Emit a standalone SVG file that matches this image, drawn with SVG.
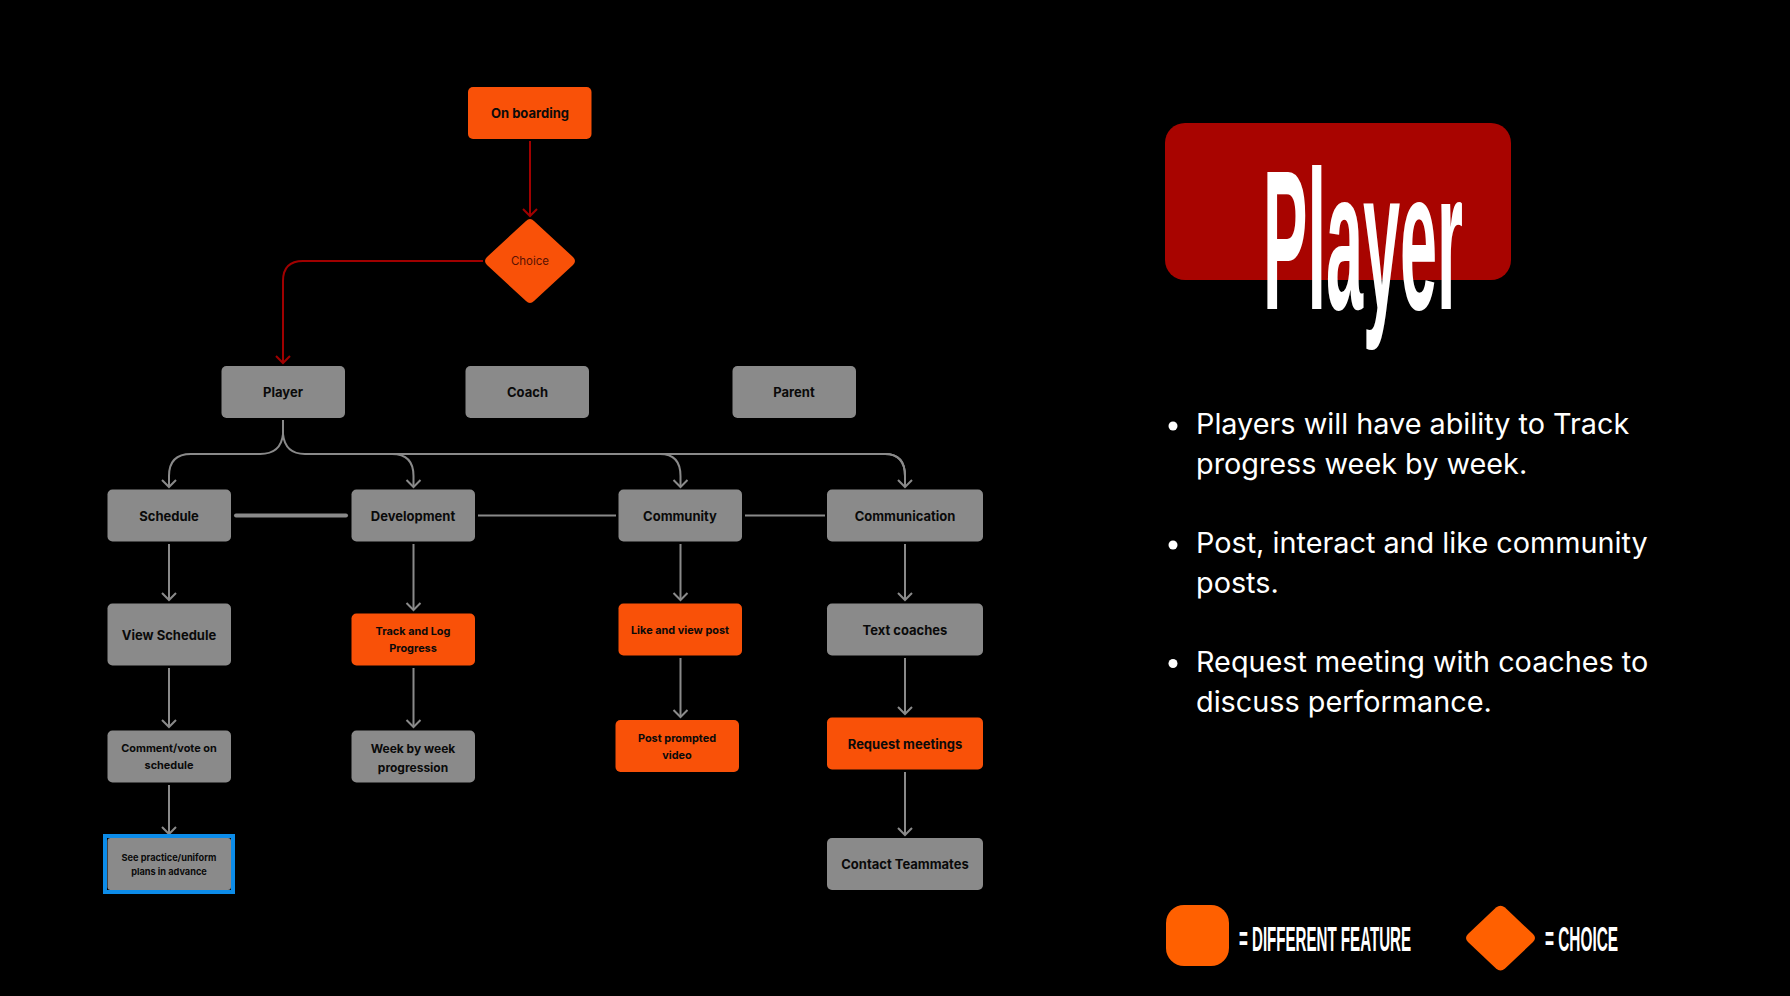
<svg xmlns="http://www.w3.org/2000/svg" width="1790" height="996" viewBox="0 0 1790 996">
<style>
.g{fill:#8a8a8a}
.o{fill:#f95108}
.t{font-family:Inter,"Liberation Sans",sans-serif;font-weight:650;fill:#0a0a0a;text-anchor:middle}
.s13{font-size:13px}.s12{font-size:12px}.s11{font-size:10.900px}.s9{font-size:9.200px}
.c{fill:none;stroke:#8a8a8a;stroke-width:2}
.r{fill:none;stroke:#a00000;stroke-width:2}
.b{font-family:Inter,"Noto Sans",sans-serif;font-size:28.800px;fill:#fff}
.l{font-family:"Liberation Sans",sans-serif;font-weight:700;font-size:35px;fill:#fff}
</style>
<defs>
<marker id="ag" markerUnits="userSpaceOnUse" markerWidth="18" markerHeight="18" refX="8" refY="8" orient="auto"><path d="M1 1L8 8L1 15" fill="none" stroke="#8a8a8a" stroke-width="2"/></marker>
<marker id="ar" markerUnits="userSpaceOnUse" markerWidth="18" markerHeight="18" refX="8" refY="8" orient="auto"><path d="M1 1L8 8L1 15" fill="none" stroke="#a00000" stroke-width="2"/></marker>
</defs>
<rect width="1790" height="996" fill="#000"/>
<g id="connectors">
<path class="r" marker-end="url(#ar)" d="M530 141V216"/>
<path class="r" marker-end="url(#ar)" d="M483 261H303Q283 261 283 281V363"/>
<path class="c" d="M283 420V434"/>
<path class="c" marker-end="url(#ag)" d="M283 434Q281 454 260 454H191Q169 454 169 476V487"/>
<path class="c" d="M283 434Q285 454 305 454H885Q905 454 905 476V487"/>
<path class="c" marker-end="url(#ag)" d="M392 454Q413.500 454 413.500 476V487"/>
<path class="c" marker-end="url(#ag)" d="M660 454Q680.500 454 680.500 476V487"/>
<path class="c" marker-end="url(#ag)" d="M885 454Q905 454 905 476V487"/>
<path d="M236 515.500H346" fill="none" stroke="#8a8a8a" stroke-width="4" stroke-linecap="round"/>
<path class="c" d="M478 515.500H616M745 515.500H825"/>
<path class="c" marker-end="url(#ag)" d="M169 544V600"/>
<path class="c" marker-end="url(#ag)" d="M169 668V727"/>
<path class="c" marker-end="url(#ag)" d="M169 785V834"/>
<path class="c" marker-end="url(#ag)" d="M413.500 544V610"/>
<path class="c" marker-end="url(#ag)" d="M413.500 668V727"/>
<path class="c" marker-end="url(#ag)" d="M680.500 544V600"/>
<path class="c" marker-end="url(#ag)" d="M680.500 658V717"/>
<path class="c" marker-end="url(#ag)" d="M905 544V600"/>
<path class="c" marker-end="url(#ag)" d="M905 658V714"/>
<path class="c" marker-end="url(#ag)" d="M905 772V835"/>
</g>
<g id="onboarding"><rect class="o" x="468" y="87" width="123.500" height="52" rx="5"/><text class="t s13" x="530" y="118">On boarding</text></g>
<g id="choice"><path class="o" d="M526 221Q530 217 534 221L573 257Q577 261 573 265L534 301Q530 305 526 301L487 265Q483 261 487 257Z"/><text x="530" y="265" text-anchor="middle" font-family="Inter,sans-serif" font-size="11.500" fill="#5a1203">Choice</text></g>
<g id="player"><rect class="g" x="221.500" y="366" width="123.500" height="52" rx="5"/><text class="t s13" x="283" y="397">Player</text></g>
<g id="coach"><rect class="g" x="465.500" y="366" width="123.500" height="52" rx="5"/><text class="t s13" x="527.500" y="397">Coach</text></g>
<g id="parent"><rect class="g" x="732.500" y="366" width="123.500" height="52" rx="5"/><text class="t s13" x="794" y="397">Parent</text></g>
<g id="schedule"><rect class="g" x="107.500" y="489.500" width="123.500" height="52" rx="5"/><text class="t s13" x="169" y="521">Schedule</text></g>
<g id="development"><rect class="g" x="351.500" y="489.500" width="123.500" height="52" rx="5"/><text class="t s13" x="413" y="521">Development</text></g>
<g id="community"><rect class="g" x="618.500" y="489.500" width="123.500" height="52" rx="5"/><text class="t s13" x="680" y="521">Community</text></g>
<g id="communication"><rect class="g" x="827" y="489.500" width="156" height="52" rx="5"/><text class="t s13" x="905" y="521">Communication</text></g>
<g id="view-schedule"><rect class="g" x="107.500" y="603.500" width="123.500" height="62" rx="5"/><text class="t s13" x="169" y="640">View Schedule</text></g>
<g id="comment"><rect class="g" x="107.500" y="730.500" width="123.500" height="52" rx="5"/><text class="t s11" x="169" y="752">Comment/vote on</text><text class="t s11" x="169" y="769">schedule</text></g>
<g id="see-practice"><rect x="105" y="836" width="128" height="56" fill="none" stroke="#0c8ce9" stroke-width="4"/><rect class="g" x="107.500" y="838" width="123.500" height="52" rx="3"/><text class="t s9" x="169" y="860.500">See practice/uniform</text><text class="t s9" x="169" y="875">plans in advance</text></g>
<g id="track"><rect class="o" x="351.500" y="613.500" width="123.500" height="52" rx="5"/><text class="t s11" x="413" y="635">Track and Log</text><text class="t s11" x="413" y="652">Progress</text></g>
<g id="week"><rect class="g" x="351.500" y="730.500" width="123.500" height="52" rx="5"/><text class="t s12" x="413" y="752.500">Week by week</text><text class="t s12" x="413" y="771.500">progression</text></g>
<g id="like"><rect class="o" x="618.500" y="603.500" width="123.500" height="52" rx="5"/><text class="t s11" x="680" y="633.500">Like and view post</text></g>
<g id="post"><rect class="o" x="615.500" y="720" width="123.500" height="52" rx="5"/><text class="t s11" x="677" y="742">Post prompted</text><text class="t s11" x="677" y="759">video</text></g>
<g id="text-coaches"><rect class="g" x="827" y="603.500" width="156" height="52" rx="5"/><text class="t s13" x="905" y="635">Text coaches</text></g>
<g id="request"><rect class="o" x="827" y="717.500" width="156" height="52" rx="5"/><text class="t s13" x="905" y="749">Request meetings</text></g>
<g id="contact"><rect class="g" x="827" y="838" width="156" height="52" rx="5"/><text class="t s13" x="905" y="869">Contact Teammates</text></g>
<g id="title"><rect x="1165" y="123" width="346" height="157" rx="20" fill="#a80400"/><text transform="translate(1263 309) scale(.335 1)" font-family="Liberation Sans,sans-serif" font-weight="700" font-size="199" fill="#fff" textLength="597" lengthAdjust="spacingAndGlyphs">Player</text></g>
<g id="bullets">
<circle cx="1173" cy="426" r="4.500" fill="#fff"/><text class="b" x="1196" y="434">Players will have ability to Track</text><text class="b" x="1196" y="473.500">progress week by week.</text>
<circle cx="1173" cy="545" r="4.500" fill="#fff"/><text class="b" x="1196" y="553">Post, interact and like community</text><text class="b" x="1196" y="592.500">posts.</text>
<circle cx="1173" cy="663.500" r="4.500" fill="#fff"/><text class="b" x="1196" y="672">Request meeting with coaches to</text><text class="b" x="1196" y="711.500">discuss performance.</text>
</g>
<g id="legend">
<rect x="1166" y="905" width="63" height="61" rx="18" fill="#ff6000"/>
<path d="M1496 907.500Q1500.500 904 1505 907.500L1533 934Q1537 938 1533 942L1505 968.500Q1500.500 972.500 1496 968.500L1468 942Q1464 938 1468 934Z" fill="#ff6000"/>
<text class="l" transform="translate(1239 951) scale(.43 1)" textLength="400" lengthAdjust="spacingAndGlyphs">= DIFFERENT FEATURE</text>
<text class="l" transform="translate(1545 951) scale(.44 1)" textLength="166" lengthAdjust="spacingAndGlyphs">= CHOICE</text>
</g>
</svg>
